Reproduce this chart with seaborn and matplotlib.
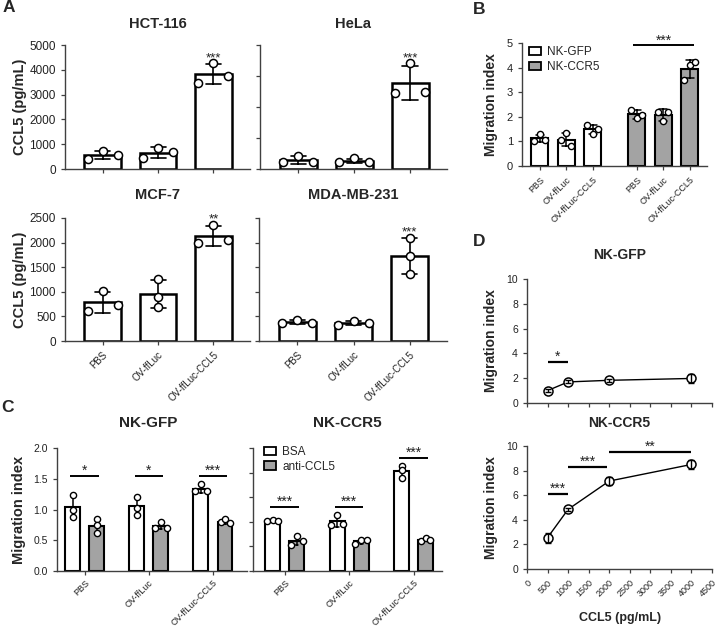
import numpy as np
import pandas as pd
import seaborn as sns
import matplotlib.pyplot as plt
from matplotlib.patches import Patch

# ---- data ----
treatments = ["PBS", "OV-ffLuc", "OV-ffLuc-CCL5"]

# A: CCL5 in supernatant (pg/mL), three wells per treatment
cell_lines = ["HCT-116", "HeLa", "MCF-7", "MDA-MB-231"]
hct116 = [[420, 740, 560], [430, 860, 670], [3480, 4260, 3750]]
hela = [[270, 540, 270], [270, 430, 300], [3050, 4260, 3090]]
mcf7 = [[610, 1020, 730], [1260, 900, 700], [1990, 2360, 2060]]
mda231 = [[360, 430, 360], [330, 410, 360], [2100, 1730, 1360]]
stars_a = ["***", "***", "**", "***"]

# B: migration index of NK cells towards supernatants
nk_types = ["NK-GFP", "NK-CCR5"]
b_gfp = [[1.03, 1.29, 1.06], [1.06, 1.33, 0.83], [1.67, 1.29, 1.51]]
b_ccr5 = [[2.28, 1.94, 2.08], [2.21, 1.81, 2.21], [3.51, 4.12, 4.21]]

# C: blocking with anti-CCL5
antibodies = ["BSA", "anti-CCL5"]
c_gfp_bsa = [[1.24, 0.99, 0.88], [1.21, 1.03, 0.91], [1.30, 1.42, 1.30]]
c_gfp_anti = [[0.84, 0.74, 0.61], [0.70, 0.79, 0.70], [0.79, 0.84, 0.78]]
c_ccr5_bsa = [[1.01, 1.04, 1.01], [0.93, 1.14, 0.96], [2.14, 2.05, 1.90]]
c_ccr5_anti = [[0.53, 0.71, 0.60], [0.55, 0.63, 0.63], [0.60, 0.67, 0.64]]
c_gfp_sig = [1.55, 1.55, 1.55]
c_gfp_stars = ["*", "*", "***"]
c_ccr5_sig = [1.31, 1.31, 2.30]
c_ccr5_stars = ["***", "***", "***"]

# D: dose response to recombinant CCL5
ccl5_conc = [500, 1000, 2000, 4000]
d_gfp_mean = [1.0, 1.7, 1.83, 1.98]
d_gfp_err = [0.12, 0.12, 0.12, 0.38]
d_ccr5_mean = [2.55, 4.85, 7.15, 8.5]
d_ccr5_err = [0.4, 0.15, 0.35, 0.35]
d_gfp_sig = [(500, 1000, 3.3, "*")]
d_ccr5_sig = [(500, 1000, 6.1, "***"), (1000, 1950, 8.3, "***"), (2000, 4000, 9.5, "**")]

GRAY = "#a3a3a3"
W, H = 717, 628

sns.set_theme(style="ticks")
plt.rcParams["font.family"] = ["Liberation Sans", "DejaVu Sans"]
plt.rcParams.update({
    "font.size": 7.5,
    "axes.linewidth": 1.0,
    "axes.edgecolor": "#404040",
    "xtick.color": "#404040",
    "ytick.color": "#404040",
    "xtick.labelcolor": "#222222",
    "ytick.labelcolor": "#222222",
    "xtick.major.size": 3,
    "ytick.major.size": 3,
    "xtick.major.width": 0.9,
    "ytick.major.width": 0.9,
    "xtick.labelsize": 7.5,
    "ytick.labelsize": 7.5,
})

fig = plt.figure(figsize=(7.17, 6.28), dpi=100)


def px_axes(l, t, r, b):
    return fig.add_axes([l / W, 1 - b / H, (r - l) / W, (b - t) / H])


def stars(ax, x, y, txt, size=10, dy=-1.5):
    ax.annotate(txt, (x, y), xytext=(0, dy), textcoords="offset points",
                ha="center", va="bottom", fontsize=size, color="#222222",
                annotation_clip=False)


def bracket(ax, x0, x1, y, txt, lw=1.4):
    ax.plot([x0, x1], [y, y], color="black", lw=lw, solid_capstyle="butt", clip_on=False)
    stars(ax, (x0 + x1) / 2, y, txt)


def rot_labels(ax, pos, labels, size=7):
    ax.set_xticks(pos)
    ax.set_xticklabels(labels, rotation=45, ha="right", rotation_mode="anchor", fontsize=size)


# ---------------- A ----------------
spread = [-0.27, 0, 0.27]
center = [0, 0, 0]
a_data = [hct116, hela, mcf7, mda231]
a_offsets = [[spread, spread, spread], [spread, spread, spread],
             [spread, center, spread], [spread, spread, center]]
a_rects = [(65, 45, 250, 169), (260, 45, 447, 169), (65, 218, 250, 341), (259, 218, 447, 341)]
a_top = [5000, 5000, 2500, 2500]
a_step = [1000, 1250, 500, 500]

for i, reps in enumerate(a_data):
    ax = px_axes(*a_rects[i])
    df = pd.DataFrame({"treatment": np.repeat(treatments, 3), "value": np.ravel(reps)})
    sns.barplot(data=df, x="treatment", y="value", order=treatments, ax=ax,
                color="white", saturation=1, edgecolor="black", linewidth=1.8, width=0.66,
                errorbar="sd", capsize=0.27, err_kws={"color": "black", "linewidth": 1.2})
    xs = np.repeat(np.arange(3), 3) + np.ravel(a_offsets[i])
    sns.scatterplot(x=xs, y=df["value"].values, ax=ax, s=34, color="white",
                    edgecolor="black", linewidth=1.1, zorder=4, clip_on=False, legend=False)
    stars(ax, 2, max(reps[2]), stars_a[i], size=9.5, dy=-0.5)
    ax.set_xlim(-0.68, 2.66)
    ax.set_ylim(0, a_top[i])
    ax.set_yticks(np.arange(0, a_top[i] + 1, a_step[i]))
    ax.tick_params(axis="y", labelsize=8.5)
    ax.set_xlabel("")
    ax.set_ylabel("")
    ax.text(0.5, 1.17 if i < 2 else 1.19, cell_lines[i], transform=ax.transAxes,
            ha="center", va="center", fontsize=10.5, fontweight="bold")
    if i % 2 == 0:
        ax.set_ylabel("CCL5 (pg/mL)", fontsize=10.5, fontweight="bold")
        ax.yaxis.set_label_coords(-0.205, 0.5)
    else:
        ax.tick_params(axis="y", labelleft=False)
    if i < 2:
        ax.set_xticks(range(3))
        ax.tick_params(axis="x", labelbottom=False)
    else:
        rot_labels(ax, range(3), treatments)
    sns.despine(ax=ax)

# ---------------- B ----------------
b_pos = [0, 1, 2, 3.65, 4.65, 5.65]
b_off = [-0.2, 0, 0.2]
df_b = pd.DataFrame({
    "pos": np.repeat(b_pos, 3),
    "value": np.ravel(b_gfp + b_ccr5),
    "cells": np.repeat(nk_types, 9),
})
axb = px_axes(522, 43, 707, 166)
sns.barplot(data=df_b, x="pos", y="value", hue="cells", native_scale=True, dodge=False,
            palette={nk_types[0]: "white", nk_types[1]: GRAY}, saturation=1, ax=axb,
            edgecolor="black", linewidth=1.5, width=0.64, errorbar="sd", capsize=0.3,
            err_kws={"color": "black", "linewidth": 1.1}, legend=False)
sns.scatterplot(x=df_b["pos"].values + np.tile(b_off, 6), y=df_b["value"].values, ax=axb,
                s=20, color="white", edgecolor="black", linewidth=1.0, zorder=4,
                clip_on=False, legend=False)
bracket(axb, b_pos[3] - 0.12, b_pos[5] + 0.15, 4.9, "***")
axb.set_xlim(-0.66, 6.3)
axb.set_ylim(0, 5)
axb.set_yticks(range(6))
axb.tick_params(axis="y", labelsize=8)
rot_labels(axb, b_pos, treatments * 2, size=6.5)
axb.set_xlabel("")
axb.set_ylabel("Migration index", fontsize=10, fontweight="bold")
axb.yaxis.set_label_coords(-0.13, 0.5)
axb.legend([Patch(facecolor=c, edgecolor="black", linewidth=1.3) for c in ["white", GRAY]],
           nk_types, loc="upper left", bbox_to_anchor=(0.04, 0.975), frameon=False,
           fontsize=8.5, handlelength=1.0, handleheight=0.75, handletextpad=0.5,
           labelspacing=0.25, borderaxespad=0, borderpad=0)
sns.despine(ax=axb)

# ---------------- C ----------------
c_spread = [-0.09, 0, 0.09]
c_center = [0, 0, 0]
c_panels = [
    ("NK-GFP", c_gfp_bsa, c_gfp_anti, c_gfp_sig, c_gfp_stars, (57, 448, 247, 571), (-0.43, 2.53),
     [[c_center, c_center], [c_center, c_spread], [c_spread, [-0.07, 0, 0.07]]]),
    ("NK-CCR5", c_ccr5_bsa, c_ccr5_anti, c_ccr5_sig, c_ccr5_stars, (253, 448, 442, 571), (-0.49, 2.44),
     [[c_spread, c_spread], [c_spread, c_spread], [c_center, [-0.08, 0, 0.07]]]),
]
for j, (title, bsa, anti, sig, sig_txt, rect, xl, offs) in enumerate(c_panels):
    ax = px_axes(*rect)
    rows = []
    for g, tr in enumerate(treatments):
        for k, ab in enumerate(antibodies):
            vals = (bsa, anti)[k][g]
            for r, v in enumerate(vals):
                rows.append((tr, ab, v, g + (k - 0.5) * 0.375 + offs[g][k][r]))
    df_c = pd.DataFrame(rows, columns=["treatment", "antibody", "value", "xpos"])
    sns.barplot(data=df_c, x="treatment", y="value", hue="antibody", order=treatments,
                hue_order=antibodies, palette={antibodies[0]: "white", antibodies[1]: GRAY},
                saturation=1, edgecolor="black", linewidth=1.5, width=0.75, gap=0.38,
                errorbar="sd", capsize=0.1, err_kws={"color": "black", "linewidth": 1.1},
                legend=False, ax=ax)
    sns.scatterplot(x=df_c["xpos"].values, y=df_c["value"].values, ax=ax, s=20, color="white",
                    edgecolor="black", linewidth=1.0, zorder=4, clip_on=False, legend=False)
    for g in range(3):
        bracket(ax, g - 0.22, g + 0.22, sig[g], sig_txt[g])
    ax.set_xlim(*xl)
    rot_labels(ax, range(3), treatments, size=6.5)
    ax.tick_params(axis="x", pad=2)
    ax.set_xlabel("")
    ax.set_ylabel("")
    ax.text(0.48 if j == 0 else 0.5, 1.2, title, transform=ax.transAxes,
            ha="center", va="center", fontsize=11, fontweight="bold")
    if j == 0:
        ax.set_ylim(0, 2.0)
        ax.set_yticks(np.arange(0, 2.01, 0.5))
        ax.set_yticklabels([f"{t:.1f}" for t in np.arange(0, 2.01, 0.5)])
        ax.set_ylabel("Migration index", fontsize=10.5, fontweight="bold")
        ax.yaxis.set_label_coords(-0.163, 0.5)
    else:
        ax.set_ylim(0, 2.5)
        ax.set_yticks(np.arange(0, 2.51, 0.5))
        ax.tick_params(axis="y", labelleft=False)
        ax.legend([Patch(facecolor=c, edgecolor="black", linewidth=1.3) for c in ["white", GRAY]],
                  antibodies, loc="upper left", bbox_to_anchor=(0.06, 1.015), frameon=False,
                  fontsize=8.5, handlelength=1.0, handleheight=0.75, handletextpad=0.5,
                  labelspacing=0.2, borderaxespad=0, borderpad=0)
    sns.despine(ax=ax)

# ---------------- D ----------------
d_panels = [
    ("NK-GFP", d_gfp_mean, d_gfp_err, d_gfp_sig, (527, 279, 712, 403)),
    ("NK-CCR5", d_ccr5_mean, d_ccr5_err, d_ccr5_sig, (527, 446, 712, 569)),
]
for j, (title, mean, err, sig, rect) in enumerate(d_panels):
    ax = px_axes(*rect)
    sns.lineplot(x=ccl5_conc, y=mean, ax=ax, color="black", linewidth=1.0, marker="o",
                 markersize=6.5, markerfacecolor="white", markeredgecolor="black",
                 markeredgewidth=1.1, zorder=3)
    ax.errorbar(ccl5_conc, mean, yerr=err, fmt="none", ecolor="black", elinewidth=1.0,
                capsize=2.5, capthick=1.0, zorder=4)
    for x0, x1, y, txt in sig:
        bracket(ax, x0, x1, y, txt, lw=1.6)
    ax.set_xlim(0, 4500)
    ax.set_ylim(0, 10)
    ax.set_yticks(range(0, 11, 2))
    ax.set_xticks(range(0, 4501, 500))
    ax.text(0.5, 1.19, title, transform=ax.transAxes, ha="center", va="center",
            fontsize=10, fontweight="bold")
    ax.set_ylabel("Migration index", fontsize=10, fontweight="bold")
    ax.yaxis.set_label_coords(-0.157, 0.5)
    if j == 0:
        ax.tick_params(axis="x", labelbottom=False)
    else:
        ax.set_xticklabels([str(v) for v in range(0, 4501, 500)], rotation=45, ha="right",
                           rotation_mode="anchor", fontsize=6.5)
        ax.set_xlabel("CCL5 (pg/mL)", fontsize=9, fontweight="bold")
        ax.xaxis.set_label_coords(0.503, -0.35)
    sns.despine(ax=ax)

# panel letters
for letter, x, y in [("A", 9, 8), ("B", 479, 9), ("C", 8, 407), ("D", 479, 241)]:
    fig.text(x / W, 1 - y / H, letter, ha="center", va="center", fontsize=12.5, fontweight="bold")

fig.savefig("out.png", dpi=100)
